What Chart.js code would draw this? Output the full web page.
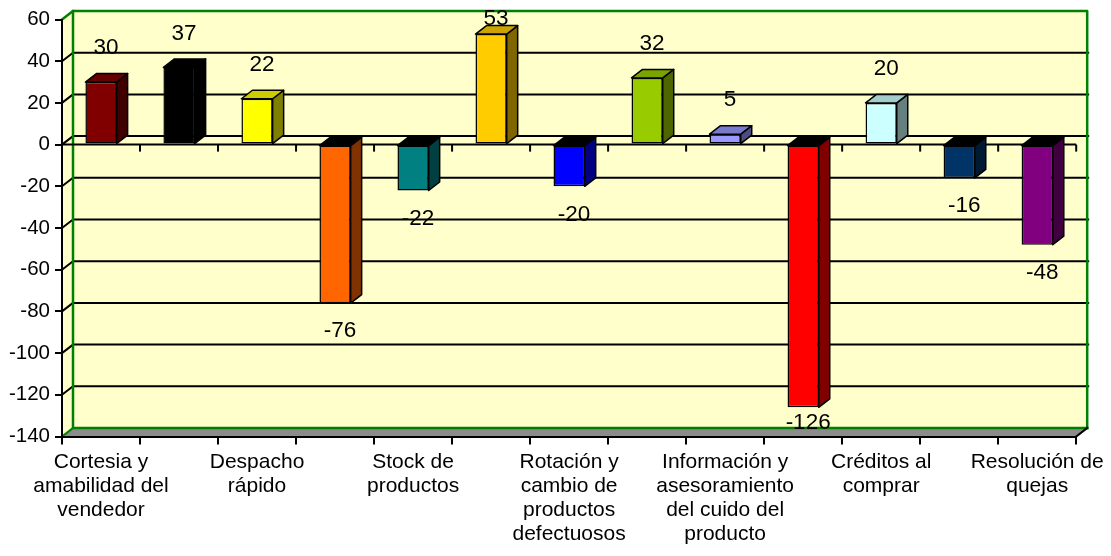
<!DOCTYPE html>
<html lang="es">
<head>
<meta charset="utf-8">
<title>Evaluación de atributos</title>
<script src="https://cdn.jsdelivr.net/npm/chart.js@4/dist/chart.umd.min.js"></script>
<style>
  html, body { margin: 0; padding: 0; background: #ffffff; }
  #wrap { width: 1111px; height: 556px; position: relative; }
</style>
</head>
<body>
<div id="wrap"><canvas id="chart"></canvas></div>
<script>
// Category names (multi-line); entries left blank are not printed on the axis
const categories = [
  ['Cortesia y', 'amabilidad del', 'vendedor'],
  '',
  ['Despacho', 'rápido'],
  '',
  ['Stock de', 'productos'],
  '',
  ['Rotación y', 'cambio de', 'productos', 'defectuosos'],
  '',
  ['Información y', 'asesoramiento', 'del cuido del', 'producto'],
  '',
  ['Créditos al', 'comprar'],
  '',
  ['Resolución de', 'quejas']
];

// Net score per attribute
const values = [30, 37, 22, -76, -22, 53, -20, 32, 5, -126, 20, -16, -48];

// Front-face colour of each column
const barColors = [
  '#800000', '#000000', '#FFFF00', '#FF6600', '#008080', '#FFCC00', '#0000FF',
  '#99CC00', '#9999FF', '#FF0000', '#CCFFFF', '#003366', '#800080'
];

// Value axis range and step
const yMin = -140;
const yMax = 60;
const yStep = 20;

const FONT = "'Liberation Sans', Arial, sans-serif";
const DEPTH_X = 11;
const DEPTH_Y = -8.5;

function shade(hex, f) {
  const n = parseInt(hex.slice(1), 16);
  const r = Math.round(((n >> 16) & 255) * f);
  const g = Math.round(((n >> 8) & 255) * f);
  const b = Math.round((n & 255) * f);
  return `rgb(${r},${g},${b})`;
}

function poly(ctx, pts, fill, stroke, lw) {
  ctx.beginPath();
  ctx.moveTo(pts[0][0], pts[0][1]);
  for (let i = 1; i < pts.length; i++) ctx.lineTo(pts[i][0], pts[i][1]);
  ctx.closePath();
  if (fill) { ctx.fillStyle = fill; ctx.fill(); }
  if (stroke) { ctx.strokeStyle = stroke; ctx.lineWidth = lw || 1.5; ctx.stroke(); }
}

function line(ctx, pts, color, lw) {
  ctx.beginPath();
  ctx.moveTo(pts[0][0], pts[0][1]);
  for (let i = 1; i < pts.length; i++) ctx.lineTo(pts[i][0], pts[i][1]);
  ctx.strokeStyle = color;
  ctx.lineWidth = lw;
  ctx.stroke();
}

// Walls, floor, gridlines, 3D column faces and value labels
const box3d = {
  id: 'box3d',
  beforeDraw(chart) {
    const { ctx, chartArea: a, scales: { y } } = chart;
    const L = a.left, R = a.right, T = a.top, B = a.bottom;
    const dx = DEPTH_X, dy = DEPTH_Y;
    ctx.save();
    ctx.lineJoin = 'round';
    // back wall and left side wall
    poly(ctx, [[L + dx, T + dy], [R + dx, T + dy], [R + dx, B + dy], [L + dx, B + dy]], '#FFFFCC');
    poly(ctx, [[L, T], [L + dx, T + dy], [L + dx, B + dy], [L, B]], '#FFFFCC');
    // floor
    poly(ctx, [[L, B], [R, B], [R + dx, B + dy], [L + dx, B + dy]], '#8c8c8c');
    // gridlines on the walls
    for (let v = yMin + yStep; v < yMax; v += yStep) {
      const yy = y.getPixelForValue(v);
      line(ctx, [[L, yy], [L + dx, yy + dy], [R + dx + 2, yy + dy]], '#000', 2);
    }
    // wall frame
    ctx.lineCap = 'square';
    line(ctx, [[L, T], [L + dx, T + dy], [R + dx, T + dy], [R + dx, B + dy]], '#008000', 2.5);
    line(ctx, [[L + dx, T + dy], [L + dx, B + dy], [R + dx, B + dy]], '#008000', 2.5);
    line(ctx, [[L, B], [L + dx, B + dy]], '#008000', 2);
    line(ctx, [[R, B], [R + dx, B + dy]], '#000', 2);
    ctx.restore();
  },
  beforeDatasetsDraw(chart) {
    const { ctx, chartArea: a, scales: { y } } = chart;
    const y0 = y.getPixelForValue(0);
    const n = categories.length;
    ctx.save();
    line(ctx, [[a.left, y0], [a.right, y0]], '#000', 2);
    for (let i = 0; i <= n; i++) {
      const xb = a.left + i * (a.right - a.left) / n;
      line(ctx, [[xb, y0], [xb, y0 + 7]], '#000', 2);
    }
    ctx.restore();
  },
  afterDatasetsDraw(chart) {
    const { ctx, chartArea: a, scales: { y } } = chart;
    const meta = chart.getDatasetMeta(0);
    const dx = DEPTH_X, dy = DEPTH_Y;
    ctx.save();
    ctx.lineJoin = 'round';
    meta.data.forEach((bar, i) => {
      const p = bar.getProps(['x', 'y', 'base', 'width'], true);
      const x1 = p.x - p.width / 2, x2 = p.x + p.width / 2;
      const yTop = Math.min(p.y, p.base), yBot = Math.max(p.y, p.base);
      const c = barColors[i];
      // side face
      poly(ctx, [[x2, yTop], [x2 + dx, yTop + dy], [x2 + dx, yBot + dy], [x2, yBot]], shade(c, 0.5), '#000', 1.5);
      // top face
      const topFill = values[i] >= 0 ? shade(c, 0.8) : '#000';
      poly(ctx, [[x1, yTop], [x2, yTop], [x2 + dx, yTop + dy], [x1 + dx, yTop + dy]], topFill, '#000', 1.5);
    });
    // value labels
    ctx.fillStyle = '#000';
    ctx.font = `22.5px ${FONT}`;
    ctx.textAlign = 'center';
    ctx.textBaseline = 'middle';
    meta.data.forEach((bar, i) => {
      const v = values[i];
      const yEnd = y.getPixelForValue(v);
      let ly = v >= 0 ? yEnd - 34 : yEnd + 28;
      ly = Math.max(a.top - 1, Math.min(a.bottom - 14, ly));
      ctx.fillText(String(v), bar.x + 5, ly);
    });
    ctx.restore();
  }
};

new Chart(document.getElementById('chart'), {
  type: 'bar',
  data: {
    labels: categories,
    datasets: [{
      data: values,
      backgroundColor: barColors,
      borderColor: '#000',
      borderWidth: 1.5,
      borderSkipped: false,
      categoryPercentage: 1,
      barPercentage: 0.4
    }]
  },
  options: {
    responsive: true,
    maintainAspectRatio: false,
    animation: false,
    devicePixelRatio: 1,
    layout: { padding: { top: 19.5, right: 33, bottom: 0, left: 0 } },
    plugins: {
      legend: { display: false },
      tooltip: { enabled: false }
    },
    scales: {
      x: {
        offset: true,
        grid: {
          offset: true,
          drawOnChartArea: false,
          drawTicks: true,
          tickLength: 8,
          color: '#000',
          lineWidth: 2
        },
        border: { display: true, color: '#000', width: 2 },
        ticks: {
          autoSkip: false,
          maxRotation: 0,
          minRotation: 0,
          color: '#000',
          padding: 6,
          font: { family: FONT, size: 21, lineHeight: 1.14 }
        },
        afterFit(scale) { scale.height = 119.5; }
      },
      y: {
        min: yMin,
        max: yMax,
        grid: {
          drawOnChartArea: false,
          drawTicks: true,
          tickLength: 7,
          color: '#000',
          lineWidth: 2
        },
        border: { display: true, color: '#000', width: 2 },
        ticks: {
          stepSize: yStep,
          color: '#000',
          padding: 5,
          font: { family: FONT, size: 20.5 }
        },
        afterFit(scale) { scale.width = 62; }
      }
    }
  },
  plugins: [box3d]
});
</script>
</body>
</html>
